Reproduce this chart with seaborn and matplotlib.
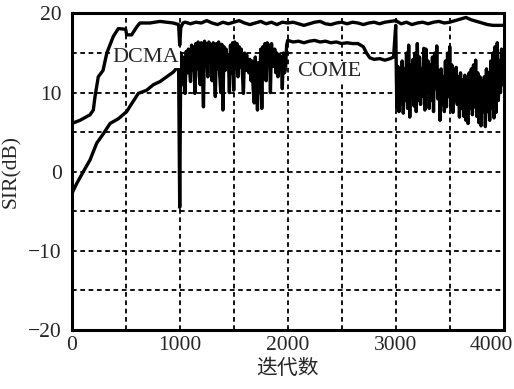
"""
SIR vs iterations for DCMA and COME
"""
import matplotlib
matplotlib.use('Agg')
import matplotlib.pyplot as plt
import matplotlib.transforms as mtransforms
from matplotlib.ticker import MultipleLocator
import numpy as np
import pandas as pd
import seaborn as sns

# DCMA curve (upper)
dcma_iter = [0, 77, 170, 200, 216, 246, 290, 325, 385, 432, 500, 509, 555, 602, 632, 725,
             817, 940, 990, 1000, 1010, 1030, 1050, 1100, 1150, 1200, 1250, 1300, 1350,
             1400, 1450, 1500, 1550, 1600, 1650, 1700, 1750, 1800, 1850, 1900, 1950, 2000,
             2050, 2100, 2150, 2200, 2250, 2300, 2350, 2400, 2450, 2500, 2550, 2600, 2650,
             2700, 2750, 2800, 2850, 2900, 2950, 3000, 3050, 3100, 3150, 3200, 3250, 3300,
             3350, 3400, 3450, 3500, 3550, 3600, 3650, 3700, 3750, 3800, 3850, 3900, 3950,
             4000]
dcma_sir = [6.1, 6.5, 7.2, 7.8, 9.5, 12.0, 12.8, 15.0, 17.1, 18.1, 18.0, 17.3, 17.3, 18.3,
            18.8, 18.8, 19.0, 18.8, 18.6, 16.0, 18.2, 18.8, 18.9, 18.7, 18.9, 18.8, 19.1,
            18.8, 18.6, 18.9, 18.7, 18.9, 19.1, 18.8, 18.6, 18.8, 19.0, 18.7, 18.9, 18.6,
            18.9, 18.8, 18.9, 18.7, 18.5, 18.7, 18.9, 19.0, 18.7, 18.6, 18.8, 18.9, 18.7,
            18.9, 18.8, 18.6, 18.8, 18.9, 18.7, 18.9, 19.0, 19.1, 18.7, 18.9, 18.6, 18.8,
            18.9, 18.7, 18.9, 19.0, 18.8, 18.9, 19.1, 19.3, 19.5, 19.2, 19.0, 18.8, 18.6,
            18.5, 18.5, 18.5]

# COME curve: smooth start, then noisy stretch, flat stretch, noisy stretch
come_iter_start = [0, 46, 107, 170, 231, 293, 355, 432, 509, 555, 617, 694, 756, 818, 880,
                   941, 972, 990, 1000]
come_sir_start = [-2.8, -1.5, 0.0, 1.5, 3.6, 4.8, 6.1, 6.7, 7.6, 8.6, 9.9, 10.3, 11.0, 11.4,
                  12.0, 12.6, 13.1, 13.0, -4.5]

# 1010 .. 1990, every 10 iterations
come_sir_noise1 = [15.0, 11.0, 14.5, 12.0, 9.9, 15.2, 12.5, 15.5, 13.0, 11.4,
                   16.0, 12.8, 15.8, 9.9, 16.2, 13.0, 16.4, 12.2, 11.0, 16.3,
                   12.5, 8.2, 16.5, 13.5, 16.2, 12.0, 16.4, 13.8, 16.0, 11.5,
                   16.3, 12.6, 9.5, 16.2, 13.0, 16.4, 12.3, 10.0, 16.1, 7.8,
                   15.8, 12.8, 15.5, 13.5, 14.8, 10.0, 16.0, 12.5, 16.3, 10.3,
                   16.4, 13.0, 16.2, 12.0, 15.8, 13.2, 15.5, 12.5, 9.9, 15.0,
                   12.8, 14.8, 13.0, 12.5, 14.2, 11.5, 14.0, 10.5, 8.7, 14.5,
                   11.0, 7.8, 13.8, 10.0, 15.5, 8.0, 15.8, 12.0, 16.2, 11.5,
                   16.3, 13.5, 16.0, 10.0, 16.2, 14.0, 13.3, 15.5, 12.5, 15.0,
                   12.0, 14.8, 13.0, 14.5, 10.5, 15.0, 12.5, 13.0, 16.0]

come_iter_flat = [2000, 2050, 2100, 2150, 2200, 2250, 2300, 2350, 2400, 2450, 2500, 2550,
                  2600, 2650, 2700, 2730, 2760, 2800, 2850, 2900, 2950, 2980, 3000]
come_sir_flat = [16.6, 16.4, 16.5, 16.3, 16.5, 16.6, 16.4, 16.5, 16.3, 16.4, 16.2, 16.3,
                 16.2, 16.2, 15.8, 15.0, 14.4, 14.2, 14.3, 14.1, 14.3, 14.5, 18.5]

# 3010 .. 4000, every 10 iterations
come_sir_noise2 = [8.0, 13.3, 7.6, 12.5, 8.5, 14.0, 7.4, 13.0, 9.0, 15.0,
                   8.0, 16.0, 6.9, 13.5, 9.5, 14.2, 8.3, 15.0, 7.6, 16.2,
                   9.0, 14.5, 8.5, 13.0, 9.5, 15.6, 7.8, 15.5, 10.0, 14.0,
                   8.0, 13.5, 9.0, 14.5, 7.6, 15.0, 10.5, 15.9, 9.2, 12.8,
                   6.5, 13.0, 8.5, 12.0, 7.6, 14.0, 8.2, 15.0, 9.5, 15.8,
                   8.0, 13.5, 7.5, 12.8, 9.0, 13.2, 8.5, 12.0, 6.9, 12.5,
                   8.0, 11.6, 7.0, 12.2, 6.5, 11.8, 6.1, 12.5, 8.0, 13.0,
                   7.2, 13.5, 8.2, 14.1, 7.0, 12.5, 6.2, 12.0, 5.8, 11.5,
                   7.5, 12.0, 5.7, 13.0, 7.6, 12.5, 6.5, 14.0, 8.0, 15.0,
                   6.8, 15.8, 7.5, 16.3, 9.0, 14.0, 10.0, 15.5, 11.0, 13.5]

label_dcma = 'DCMA'
label_come = 'COME'
x_ticks = [0, 1000, 2000, 3000, 4000]
y_ticks = [-20, -10, 0, 10, 20]

come_iter = (come_iter_start
             + list(np.linspace(1010, 1990, len(come_sir_noise1)))
             + come_iter_flat
             + list(np.linspace(3010, 4000, len(come_sir_noise2))))
come_sir = come_sir_start + come_sir_noise1 + come_sir_flat + come_sir_noise2

df_dcma = pd.DataFrame({'iter': dcma_iter, 'sir': dcma_sir})
df_come = pd.DataFrame({'iter': come_iter, 'sir': come_sir})

sns.set_style('white')
plt.rcParams['font.family'] = ['Liberation Serif', 'Noto Sans CJK SC']
plt.rcParams['axes.unicode_minus'] = True

fig = plt.figure(figsize=(5.14, 3.89), dpi=100)
ax = fig.add_axes([0.1395, 0.1517, 0.8405, 0.8136])

sns.lineplot(x='iter', y='sir', data=df_come, color='black', lw=2.4, estimator=None,
             sort=False, ax=ax, zorder=3)
sns.lineplot(x='iter', y='sir', data=df_dcma, color='black', lw=2.4, estimator=None,
             sort=False, ax=ax, zorder=3)

ax.set_xlim(0, 4000)
ax.set_ylim(-20, 20)
ax.set_xticks(x_ticks)
ax.set_yticks(y_ticks)
ax.xaxis.set_minor_locator(MultipleLocator(500))
ax.yaxis.set_minor_locator(MultipleLocator(5))
ax.grid(True, which='both', color='black', linestyle=(0, (2.6, 2.0)), linewidth=1.3)
ax.set_axisbelow(True)
ax.tick_params(which='both', length=0, labelsize=15.5)
ax.tick_params(axis='x', pad=4)
ax.tick_params(axis='y', pad=7)

for sp in ax.spines.values():
    sp.set_visible(True)
    sp.set_color('black')
    sp.set_linewidth(2.2)

ax.set_xlabel('迭代数', family=['Noto Sans CJK SC', 'DejaVu Sans'], fontsize=15, labelpad=2)
ax.set_ylabel('SIR(dB)', fontsize=15.5)
ax.yaxis.set_label_coords(-0.117, 0.5)

# last x label sits a bit to the left in the source
last = ax.get_xticklabels()[-1]
last.set_transform(last.get_transform() + mtransforms.ScaledTranslation(-12 / 100, 0, fig.dpi_scale_trans))

ax.text(690, 14.4, label_dcma, fontsize=16, ha='center', va='center', zorder=4,
        bbox=dict(facecolor='white', edgecolor='none', pad=0.5))
ax.text(2385, 12.7, label_come, fontsize=16, ha='center', va='center', zorder=4,
        bbox=dict(facecolor='white', edgecolor='none', pad=0.5))

fig.savefig('out.png', dpi=100)
